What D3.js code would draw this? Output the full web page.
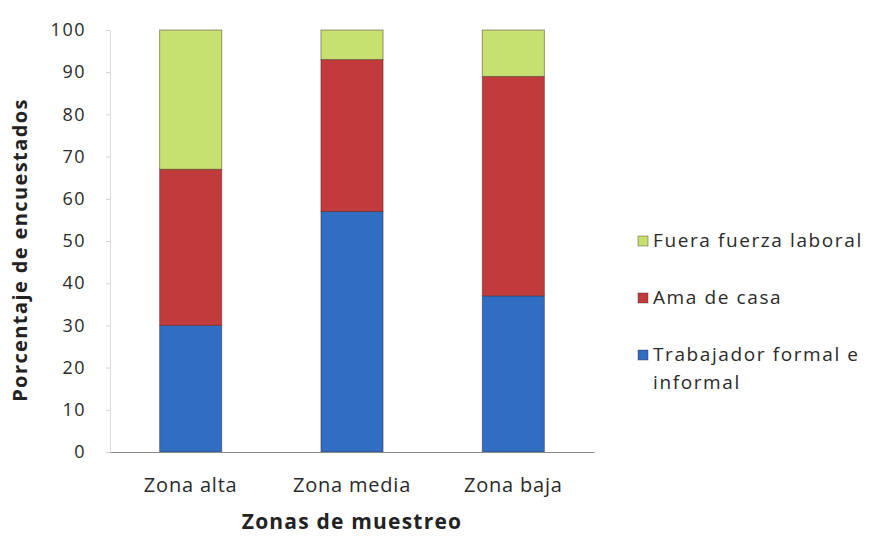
<!DOCTYPE html>
<html>
<head>
<meta charset="utf-8">
<script src="https://cdn.jsdelivr.net/npm/d3@7"></script>
<style>
  body { margin: 0; background: #fff; }
  text { font-family: "Open Sans", sans-serif; }
</style>
</head>
<body>
<svg id="chart" width="873" height="537"></svg>
<script>
var zonas = ["Zona alta", "Zona media", "Zona baja"];
var trabajador = [30, 57, 37];
var amaDeCasa = [37, 36, 52];
var fueraFuerza = [33, 7, 11];
var seriesNames = ["Trabajador formal e informal", "Ama de casa", "Fuera fuerza laboral"];
var yTicks = [0, 10, 20, 30, 40, 50, 60, 70, 80, 90, 100];

var colors = ["#2f6ec2", "#c23b3c", "#c6e170"];

var svg = d3.select("#chart"),
    plotLeft = 110, plotRight = 594, plotTop = 30, plotBottom = 452;

var rows = zonas.map(function(z, i) {
  return { zona: z, t: trabajador[i], a: amaDeCasa[i], f: fueraFuerza[i] };
});

var stack = d3.stack().keys(["t", "a", "f"]);
var layers = stack(rows);

var x = d3.scaleBand()
    .domain(zonas)
    .range([plotLeft, plotRight])
    .paddingInner(0.615)
    .paddingOuter(0.3075);

var y = d3.scaleLinear()
    .domain([0, 100])
    .range([plotBottom, plotTop]);

// y axis
var yAxis = svg.append("g")
    .attr("transform", "translate(" + plotLeft + ",0)")
    .call(d3.axisLeft(y).tickValues(yTicks).tickSize(4).tickPadding(20));
yAxis.select(".domain").attr("stroke", "#dcdcdc");
yAxis.selectAll(".tick line").attr("stroke", "#d0d0d0");
yAxis.selectAll(".tick text")
    .attr("fill", "#2a2a2a")
    .style("font-size", "18px")
    .style("letter-spacing", "1.5px");

// bars
svg.append("g").selectAll("g")
  .data(layers)
  .enter().append("g")
    .attr("fill", function(d, i) { return colors[i]; })
  .selectAll("rect")
  .data(function(d) { return d; })
  .enter().append("rect")
    .attr("x", function(d) { return x(d.data.zona); })
    .attr("y", function(d) { return y(d[1]); })
    .attr("width", x.bandwidth())
    .attr("height", function(d) { return y(d[0]) - y(d[1]); })
    .attr("stroke", "rgba(60,30,30,0.45)")
    .attr("stroke-width", 1);

// x axis
var xAxis = svg.append("g")
    .attr("transform", "translate(0," + plotBottom + ")")
    .call(d3.axisBottom(x).tickSize(0).tickPadding(26));
xAxis.select(".domain").attr("stroke", "#8a8a8a");
xAxis.selectAll(".tick text")
    .attr("fill", "#2a2a2a")
    .style("font-size", "20px")
    .style("letter-spacing", "0.8px");

// axis titles
svg.append("text")
    .attr("transform", "translate(27," + ((plotTop + plotBottom) / 2 + 9) + ") rotate(-90)")
    .attr("text-anchor", "middle")
    .style("font-size", "20px")
    .style("font-weight", "bold")
    .style("letter-spacing", "1.4px")
    .attr("fill", "#222")
    .text("Porcentaje de encuestados");

svg.append("text")
    .attr("x", (plotLeft + plotRight) / 2)
    .attr("y", 529)
    .attr("text-anchor", "middle")
    .style("font-size", "21px")
    .style("font-weight", "bold")
    .style("letter-spacing", "1.2px")
    .attr("fill", "#222")
    .text("Zonas de muestreo");

// legend (top to bottom: reversed series)
var legendItems = [
  { name: seriesNames[2], color: colors[2], lines: ["Fuera fuerza laboral"] },
  { name: seriesNames[1], color: colors[1], lines: ["Ama de casa"] },
  { name: seriesNames[0], color: colors[0], lines: ["Trabajador formal e", "informal"] }
];

var legend = svg.append("g").selectAll("g")
  .data(legendItems)
  .enter().append("g")
    .attr("transform", function(d, i) { return "translate(638," + (241 + i * 57) + ")"; });

legend.append("rect")
    .attr("x", 0).attr("y", -5)
    .attr("width", 10).attr("height", 10)
    .attr("fill", function(d) { return d.color; })
    .attr("stroke", "rgba(60,30,30,0.4)");

legend.append("text")
    .attr("y", 6)
    .style("font-size", "19px")
    .style("letter-spacing", "1.6px")
    .attr("fill", "#2a2a2a")
    .selectAll("tspan")
    .data(function(d) { return d.lines; })
    .enter().append("tspan")
      .attr("x", 15)
      .attr("dy", function(d, i) { return i === 0 ? 0 : 28; })
      .text(function(d) { return d; });
</script>
</body>
</html>
